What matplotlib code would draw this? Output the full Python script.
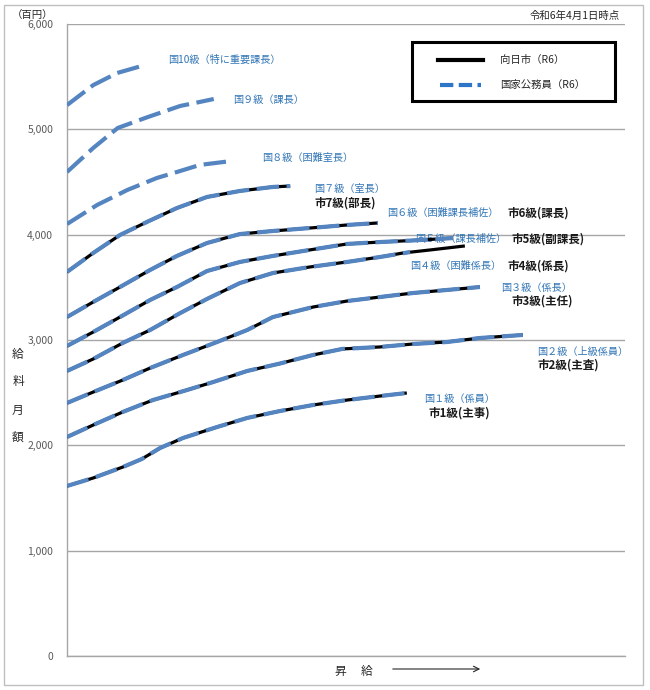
import matplotlib
matplotlib.use("Agg")
import matplotlib.pyplot as plt
from matplotlib.lines import Line2D
from matplotlib.patches import Rectangle, FancyArrowPatch

plt.rcParams['font.family'] = ['Noto Sans CJK JP', 'DejaVu Sans']

# ---- data (x = 昇給 steps, 0..100 scale; y = 給料月額 in 百円) ----
g10_x = [0, 4.7, 9.0, 13.6]
g10_y = [5230, 5420, 5535, 5605]
g9_x = [0, 4.7, 9.1, 14.5, 20.3, 23.8, 26.3]
g9_y = [4595, 4823, 5013, 5117, 5222, 5260, 5288]
g8_x = [0, 5.4, 10.8, 16.1, 19.7, 23.8, 29.6]
g8_y = [4101, 4282, 4424, 4538, 4595, 4662, 4700]
g7_x = [0, 4.7, 9.5, 14.3, 19.7, 25.1, 31.0, 36.9, 40.0]
g7_y = [3646, 3826, 3997, 4120, 4253, 4358, 4415, 4453, 4462]
g6_x = [0, 4.7, 9.5, 14.9, 19.7, 25.1, 31.0, 36.9, 43.5, 50.2, 55.7]
g6_y = [3218, 3361, 3503, 3665, 3798, 3921, 4006, 4035, 4063, 4092, 4111]
g5_x = [0, 4.7, 9.5, 14.9, 19.7, 25.1, 31.0, 36.9, 43.5, 50.2, 56.1, 62.0, 69.2]
g5_y = [2943, 3076, 3218, 3380, 3503, 3655, 3741, 3798, 3855, 3912, 3930, 3945, 3968]
g4_x = [0, 4.7, 10.0, 14.9, 20.3, 25.1, 31.0, 36.9, 43.5, 50.2, 56.1, 61.5]
g4_y = [2706, 2820, 2972, 3095, 3256, 3390, 3541, 3636, 3693, 3741, 3788, 3835]
shi4_x = [0, 4.7, 10.0, 14.9, 20.3, 25.1, 31.0, 36.9, 43.5, 50.2, 56.1, 60.2, 65.1, 71.3]
shi4_y = [2706, 2820, 2972, 3095, 3256, 3390, 3541, 3636, 3693, 3741, 3788, 3826, 3855, 3893]
g3_x = [0, 4.7, 10.0, 14.9, 20.8, 26.9, 32.3, 36.9, 44.1, 50.2, 56.1, 62.0, 68.1, 74.0]
g3_y = [2402, 2506, 2620, 2734, 2858, 2981, 3095, 3218, 3313, 3370, 3408, 3446, 3475, 3503]
g2_x = [0, 4.7, 10.0, 15.4, 21.5, 26.2, 32.3, 38.2, 44.1, 49.3, 56.1, 62.0, 68.1, 74.0, 81.7]
g2_y = [2079, 2193, 2317, 2430, 2525, 2601, 2706, 2777, 2858, 2915, 2934, 2962, 2981, 3019, 3048]
g1_x = [0, 4.7, 10.0, 13.4, 16.7, 20.8, 26.9, 32.3, 38.2, 44.1, 50.2, 56.1, 60.9]
g1_y = [1614, 1690, 1794, 1870, 1975, 2070, 2174, 2260, 2326, 2383, 2430, 2468, 2497]

kuni_series = [(g10_x, g10_y), (g9_x, g9_y), (g8_x, g8_y), (g7_x, g7_y),
               (g6_x, g6_y), (g5_x, g5_y), (g4_x, g4_y), (g3_x, g3_y),
               (g2_x, g2_y), (g1_x, g1_y)]
shi_series = [(g7_x, g7_y), (g6_x, g6_y), (g5_x, g5_y), (shi4_x, shi4_y),
              (g3_x, g3_y), (g2_x, g2_y), (g1_x, g1_y)]

kuni_labels = ["国10級（特に重要課長）", "国９級（課長）", "国８級（困難室長）",
               "国７級（室長）", "国６級（困難課長補佐）", "国５級（課長補佐）",
               "国４級（困難係長）", "国３級（係長）", "国２級（上級係員）",
               "国１級（係員）"]
shi_labels = ["市7級(部長)", "市6級(課長)", "市5級(副課長)", "市4級(係長)",
              "市3級(主任)", "市2級(主査)", "市1級(主事)"]
y_ticks = [0, 1000, 2000, 3000, 4000, 5000, 6000]

# label anchor positions (layout)
kuni_label_pos = [(18.1, 5658), (29.7, 5279), (34.9, 4728), (44.3, 4434),
                  (57.3, 4206), (62.4, 3959), (61.5, 3703), (77.8, 3494),
                  (84.2, 2887), (64.0, 2440)]
shi_label_pos = [(44.3, 4301), (79.0, 4206), (79.6, 3959), (78.9, 3703),
                 (79.6, 3370), (84.4, 2758), (64.7, 2310)]

BLUE_LINE = '#5585c0'
BLUE_TEXT = '#2f74b5'
GRID = '#a6a6a6'

fig = plt.figure(figsize=(6.5, 6.9), dpi=100)
ax = fig.add_axes([67/650, 1-656/690, (625-67)/650, (656-24)/690])
ax.set_xlim(0, 100)
ax.set_ylim(0, 6000)

for xs, ys in shi_series:
    ax.plot(xs, ys, color='black', lw=2.3, solid_capstyle='butt', zorder=3)
for xs, ys in kuni_series:
    ax.plot(xs, ys, color=BLUE_LINE, lw=3.0, linestyle=(0, (5.4, 1.8)),
            dash_capstyle='butt', zorder=4)

for (x, y), t in zip(kuni_label_pos, kuni_labels):
    ax.text(x, y, t, color=BLUE_TEXT, fontsize=7.3, ha='left', va='center', zorder=2)
for (x, y), t in zip(shi_label_pos, shi_labels):
    ax.text(x, y, t, color='#1a1a1a', fontsize=8.3, fontweight='bold',
            ha='left', va='center', zorder=2)

ax.set_yticks(y_ticks)
ax.set_yticklabels([f"{v:,}" for v in y_ticks])
ax.set_xticks([])
ax.tick_params(axis='y', length=0, pad=10, labelsize=7.5, labelcolor='#595959')
ax.grid(axis='y', color=GRID, lw=1.0)
ax.set_axisbelow(True)
for s in ['top', 'right']:
    ax.spines[s].set_visible(False)
for s in ['left', 'bottom']:
    ax.spines[s].set_color(GRID)
    ax.spines[s].set_linewidth(1.0)

# outer frame
fig.add_artist(Rectangle((4/650, 1-685/690), (643-4)/650, (685-5)/690,
                         transform=fig.transFigure, fill=False,
                         edgecolor='#bfbfbf', lw=1.0))

# header texts
fig.text(12/650, 1-15/690, "（百円）", fontsize=7.5, color='#262626', ha='left', va='center')
fig.text(620/650, 1-16/690, "令和6年4月1日時点", fontsize=7.5, color='#262626',
         ha='right', va='center')

# y-axis label (vertical stacked)
for ch, py in zip("給料月額", [354, 382, 410, 437]):
    fig.text(18/650, 1-py/690, ch, fontsize=8.5, color='#262626', ha='center', va='center')

# x-axis label with arrow
fig.text(340/650, 1-671/690, "昇", fontsize=8.5, color='#262626', ha='center', va='center')
fig.text(367/650, 1-671/690, "給", fontsize=8.5, color='#262626', ha='center', va='center')
fig.add_artist(FancyArrowPatch((390/650, 1-669/690), (483/650, 1-669/690),
                               transform=fig.transFigure, arrowstyle='->',
                               mutation_scale=10, lw=0.8, color='#262626'))

# legend (manual box)
fig.add_artist(Rectangle((412/650, 1-101/690), (615-412)/650, (101-42)/690,
                         transform=fig.transFigure, fill=False,
                         edgecolor='black', lw=2.2, zorder=10))
fig.add_artist(Line2D([438/650, 483/650], [1-60/690, 1-60/690],
                      transform=fig.transFigure, color='black', lw=3.0))
fig.add_artist(Line2D([440/650, 481/650], [1-85/690, 1-85/690],
                      transform=fig.transFigure, color='#2d75c6', lw=3.0,
                      linestyle=(0, (3.2, 1.3))))
fig.text(500/650, 1-60/690, "向日市（R6）", fontsize=7.5, color='#262626', ha='left', va='center')
fig.text(500/650, 1-85/690, "国家公務員（R6）", fontsize=7.5, color='#262626', ha='left', va='center')

fig.savefig("out.png", dpi=100)
